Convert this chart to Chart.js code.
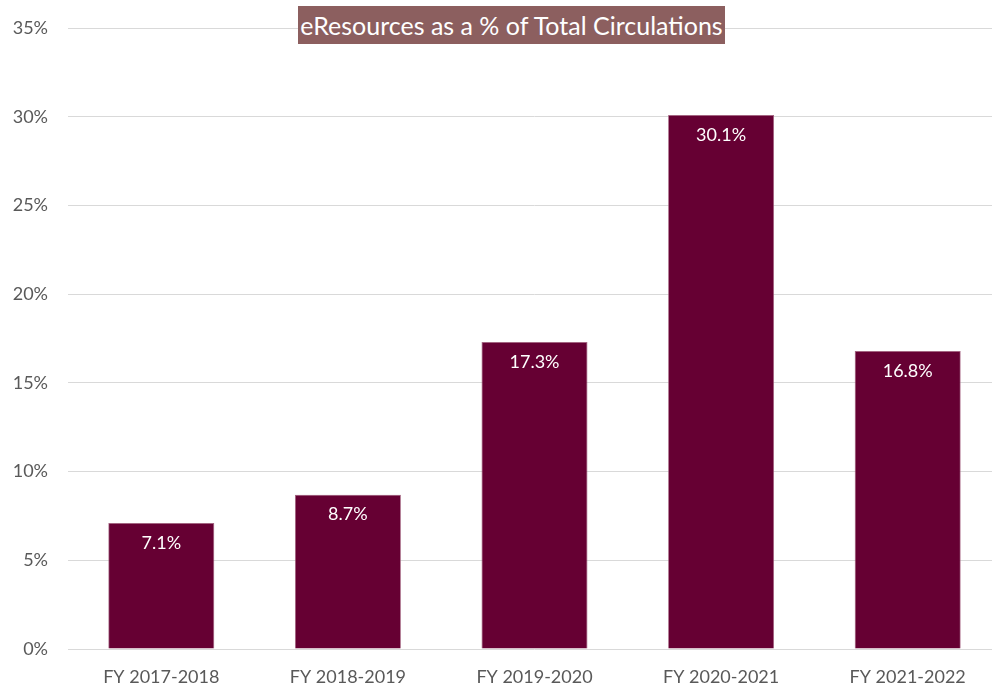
<!DOCTYPE html>
<html>
<head>
  <title>eResources as a % of Total Circulations</title>
  <script src="https://cdn.jsdelivr.net/npm/chart.js"></script>
  <style>
    html, body { margin: 0; padding: 0; background: white; overflow: hidden; }
    #wrap { position: relative; width: 1006px; height: 694px; }
    #title {
      position: absolute; left: 298px; top: 6px; width: 427px; height: 38px;
      background: #8c5f5f; color: white; font-family: Lato, sans-serif; font-size: 25px;
      line-height: 38px; text-align: center; white-space: nowrap;
    }
  </style>
</head>
<body>
  <div id="wrap">
    <canvas id="chart" width="1006" height="694"></canvas>
    <div id="title">eResources as a % of Total Circulations</div>
  </div>
  <script>
    const years = ["FY 2017-2018", "FY 2018-2019", "FY 2019-2020", "FY 2020-2021", "FY 2021-2022"];
    const pctValues = [7.1, 8.7, 17.3, 30.1, 16.8];
    const yTicks = [0, 5, 10, 15, 20, 25, 30, 35];

    // white value labels just inside the top of each bar
    const barLabels = {
      id: "barLabels",
      afterDatasetsDraw(chart) {
        const ctx = chart.ctx;
        ctx.save();
        ctx.fillStyle = "white";
        ctx.font = "18px Lato";
        ctx.textAlign = "center";
        ctx.textBaseline = "middle";
        chart.getDatasetMeta(0).data.forEach((bar, i) => {
          ctx.fillText(pctValues[i].toFixed(1) + "%", bar.x, bar.y + 20);
        });
        ctx.restore();
      }
    };

    new Chart(document.getElementById("chart"), {
      type: "bar",
      data: {
        labels: years,
        datasets: [{
          data: pctValues,
          backgroundColor: "#660033",
          borderColor: "#a2607e",
          borderWidth: 0.8,
          categoryPercentage: 1,
          barPercentage: 0.568
        }]
      },
      options: {
        responsive: false,
        animation: false,
        layout: { padding: { top: 28, right: 5, left: 0, bottom: 0 } },
        plugins: { legend: { display: false }, tooltip: { enabled: false } },
        scales: {
          x: {
            grid: { display: false, drawTicks: false },
            border: { display: false },
            ticks: { color: "#595959", font: { family: "Lato", size: 18 }, padding: 17 },
            afterFit(scale) { scale.height = 45; }
          },
          y: {
            min: 0,
            max: 35,
            afterBuildTicks(scale) { scale.ticks = yTicks.map(v => ({ value: v })); },
            grid: { color: "#d9d9d9", lineWidth: 1, drawTicks: false },
            border: { display: false },
            ticks: {
              color: "#595959",
              font: { family: "Lato", size: 18 },
              padding: 20,
              callback: v => v + "%"
            },
            afterFit(scale) {
              scale.width = 68;
              scale.paddingTop = 0;
              scale.paddingBottom = 0;
            }
          }
        }
      },
      plugins: [barLabels]
    });
  </script>
</body>
</html>
